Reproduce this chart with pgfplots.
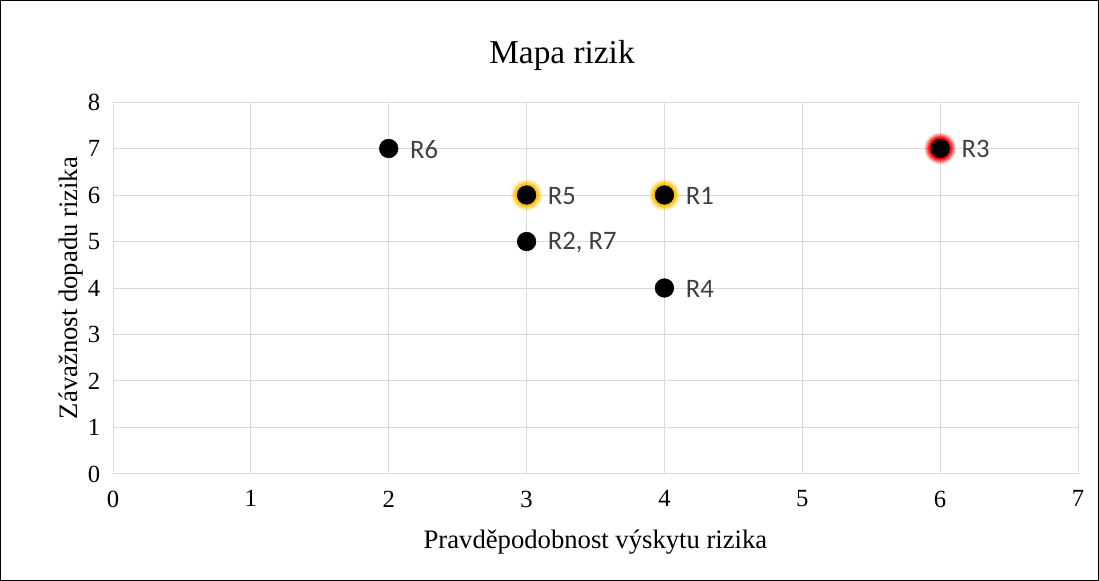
\documentclass[border=0pt]{standalone}
\usepackage{pgfplots}
\pgfplotsset{compat=1.18}
\usepackage{fontspec}
\setmainfont{Liberation Serif}
\newfontfamily\calibri{Carlito}
\definecolor{gridc}{HTML}{D9D9D9}
\definecolor{lblc}{HTML}{404040}
\definecolor{glowy}{HTML}{FFC000}
\definecolor{glowr}{HTML}{FF0000}
\pgfplotstableread{
x y lab
2 7 R6
3 6 R5
4 6 R1
3 5 {R2, R7}
4 4 R4
6 7 R3
}\pts
\pgfplotstableread{
x y
3 6
4 6
}\yel
\pgfplotstableread{
x y
6 7
}\red
\pgfplotsset{glow/.style n args={3}{only marks, mark=*, mark size=#1, mark options={draw opacity=0, fill=#3, fill opacity=#2}}}
\begin{document}
\begin{tikzpicture}
\draw[line width=0.75pt] (0.375pt,0.375pt) rectangle (823.875pt,435.375pt);
\node[font=\fontsize{25}{27}\selectfont, text=black] at (421.5pt,394.5pt) {Mapa rizik};
\begin{axis}[
  at={(84.75pt,80.25pt)}, anchor=south west,
  scale only axis, width=723.75pt, height=279pt,
  xmin=0, xmax=7, ymin=0, ymax=8,
  xtick={0,...,7}, ytick={0,...,8},
  grid=major, major grid style={gridc, line width=0.75pt},
  axis line style={gridc, line width=0.75pt},
  tick style={draw=none},
  /pgf/number format/assume math mode=true,
  ticklabel style={font=\fontsize{18.5}{20}\selectfont},
  xticklabel style={yshift=-9pt},
  yticklabel style={xshift=-6pt},
  xlabel={Pravděpodobnost výskytu rizika},
  ylabel={Závažnost dopadu rizika},
  xlabel style={yshift=-10pt},
  ylabel style={yshift=-3pt},
  label style={font=\fontsize{20}{22}\selectfont},
  clip=false,
]
\addplot[glow={12pt}{0.12}{glowy}] table[x=x,y=y] {\yel};
\addplot[glow={11.2pt}{0.18}{glowy}] table[x=x,y=y] {\yel};
\addplot[glow={10.5pt}{0.25}{glowy}] table[x=x,y=y] {\yel};
\addplot[glow={9.8pt}{0.35}{glowy}] table[x=x,y=y] {\yel};
\addplot[glow={9.1pt}{0.5}{glowy}] table[x=x,y=y] {\yel};
\addplot[glow={8.4pt}{0.7}{glowy}] table[x=x,y=y] {\yel};
\addplot[glow={7.8pt}{0.9}{glowy}] table[x=x,y=y] {\yel};
\addplot[glow={12pt}{0.12}{glowr}] table[x=x,y=y] {\red};
\addplot[glow={11.2pt}{0.18}{glowr}] table[x=x,y=y] {\red};
\addplot[glow={10.5pt}{0.25}{glowr}] table[x=x,y=y] {\red};
\addplot[glow={9.8pt}{0.35}{glowr}] table[x=x,y=y] {\red};
\addplot[glow={9.1pt}{0.5}{glowr}] table[x=x,y=y] {\red};
\addplot[glow={8.4pt}{0.7}{glowr}] table[x=x,y=y] {\red};
\addplot[glow={7.8pt}{0.9}{glowr}] table[x=x,y=y] {\red};
\addplot[only marks, mark=*, mark size=7pt, mark options={draw=black, fill=black}, black,
  nodes near coords, point meta=explicit symbolic,
  nodes near coords style={anchor=west, xshift=12.5pt, yshift=-0.5pt, text=lblc, font=\calibri\fontsize{20}{22}\selectfont}]
  table[x=x,y=y,meta=lab] {\pts};
\end{axis}
\end{tikzpicture}
\end{document}
